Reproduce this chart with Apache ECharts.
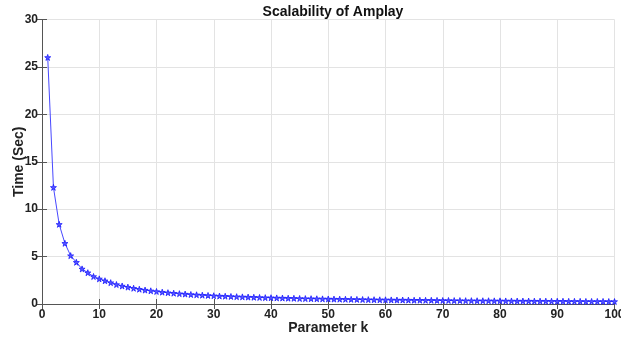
<!DOCTYPE html>
<html>
<head>
<meta charset="utf-8">
<script src="https://cdn.jsdelivr.net/npm/echarts@6/dist/echarts.min.js"></script>
<style>
  html, body { margin: 0; padding: 0; background: #fff; }
  #chart { width: 621px; height: 340px; }
</style>
</head>
<body>
<div id="chart"></div>
<script>
// k = 1..100
const kValues = Array.from({ length: 100 }, (_, i) => i + 1)
const timeSec = [
  26.0, 12.3, 8.4, 6.4, 5.1, 4.4, 3.7, 3.3, 2.9, 2.65,
  2.45, 2.25, 2.05, 1.9, 1.78, 1.66, 1.56, 1.47, 1.39, 1.32,
  1.25, 1.19, 1.14, 1.09, 1.05, 1.0, 0.97, 0.93, 0.9, 0.87,
  0.84, 0.82, 0.79, 0.77, 0.75, 0.73, 0.71, 0.69, 0.67, 0.66,
  0.64, 0.63, 0.61, 0.6, 0.58, 0.57, 0.56, 0.55, 0.54, 0.53,
  0.52, 0.51, 0.5, 0.49, 0.48, 0.47, 0.46, 0.45, 0.44, 0.44,
  0.43, 0.42, 0.42, 0.41, 0.4, 0.4, 0.39, 0.39, 0.38, 0.37,
  0.37, 0.36, 0.36, 0.35, 0.35, 0.34, 0.34, 0.34, 0.33, 0.33,
  0.32, 0.32, 0.31, 0.31, 0.31, 0.3, 0.3, 0.3, 0.29, 0.29,
  0.29, 0.28, 0.28, 0.28, 0.27, 0.27, 0.27, 0.27, 0.26, 0.26,
]

const font = 'Liberation Sans, Arial, Helvetica, sans-serif'
const axisColor = '#555'
const gridColor = '#e3e3e3'
const star = 'path://M50,0 L61,35 L98,35 L68,57 L79,91 L50,70 L21,91 L32,57 L2,35 L39,35 Z'

const baseAxis = {
  axisLine: { show: true, lineStyle: { color: axisColor, width: 1 } },
  axisTick: { show: true, inside: true, length: 5, lineStyle: { color: axisColor } },
  splitLine: { show: true, lineStyle: { color: gridColor, width: 1 } },
  axisLabel: { color: '#222', fontFamily: font, fontWeight: 'bold', fontSize: 12 },
}

const option = {
  animation: false,
  backgroundColor: '#fff',
  title: {
    text: 'Scalability of Amplay',
    left: 328, top: 0, textAlign: 'center',
    textStyle: { fontFamily: font, fontWeight: 'bold', fontSize: 14, color: '#111' },
  },
  grid: {
    left: 42, right: 6.5, top: 19.5, bottom: 36,
    containLabel: false, outerBoundsMode: 'none',
  },
  xAxis: [
    {
      ...baseAxis, type: 'value', min: 0, max: 100, interval: 10,
      name: 'Parameter k', nameLocation: 'middle', nameGap: 17, nameMoveOverlap: false,
      nameTextStyle: { fontFamily: font, fontWeight: 'bold', fontSize: 14, color: '#222' },
      axisLabel: { ...baseAxis.axisLabel, margin: 5 },
    },
    {
      ...baseAxis, type: 'value', min: 0, max: 100, interval: 10, position: 'top',
      axisLabel: { show: false }, splitLine: { show: false },
    },
  ],
  yAxis: [
    {
      ...baseAxis, type: 'value', min: 0, max: 30, interval: 5,
      name: 'Time (Sec)', nameLocation: 'middle', nameGap: 16, nameMoveOverlap: false,
      nameTextStyle: { fontFamily: font, fontWeight: 'bold', fontSize: 14, color: '#222' },
      axisLabel: { ...baseAxis.axisLabel, margin: 4 },
    },
    {
      ...baseAxis, type: 'value', min: 0, max: 30, interval: 5, position: 'right',
      axisLabel: { show: false }, splitLine: { show: false },
    },
  ],
  series: [
    {
      type: 'line',
      data: kValues.map((k, i) => [k, timeSec[i]]),
      symbol: star,
      symbolSize: 6,
      showAllSymbol: true,
      lineStyle: { color: '#4848ff', width: 1 },
      itemStyle: { color: '#5a5aff', borderColor: '#1a1aff', borderWidth: 0.8 },
    },
  ],
}

const chart = echarts.init(document.getElementById('chart'))
chart.setOption(option)
</script>
</body>
</html>
